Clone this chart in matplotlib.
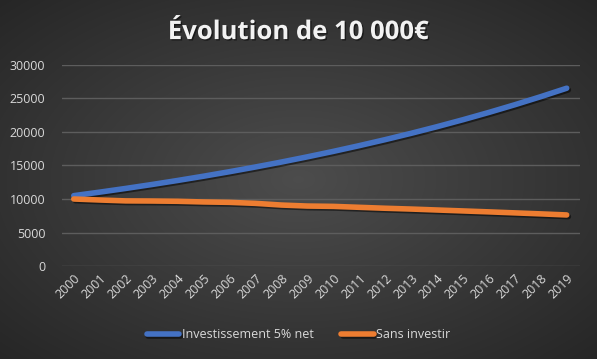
import matplotlib
matplotlib.use("Agg")
import matplotlib.pyplot as plt
import matplotlib.patheffects as pe
import numpy as np

years = [str(y) for y in range(2000, 2020)]
invest = [10500, 11025, 11576, 12155, 12763, 13401, 14071, 14775, 15513, 16289,
          17103, 17959, 18856, 19799, 20789, 21829, 22920, 24066, 25270, 26533]
sans = [10000, 9850, 9720, 9700, 9660, 9560, 9500, 9350, 9100, 8950,
        8900, 8760, 8620, 8500, 8360, 8220, 8080, 7930, 7780, 7620]
yticks = [0, 5000, 10000, 15000, 20000, 25000, 30000]

plt.rcParams['font.family'] = ['Open Sans', 'DejaVu Sans']

fig = plt.figure(figsize=(5.97, 3.59), dpi=100)

# background radial gradient
bg = fig.add_axes([0, 0, 1, 1], zorder=-10)
nx, ny = 600, 360
xx, yy = np.meshgrid(np.linspace(-1, 1, nx), np.linspace(-1, 1, ny))
r = np.sqrt(xx**2 + yy**2) / np.sqrt(2)
c = 0.30 - 0.15 * r
img = np.dstack([c, c, c])
bg.imshow(img, extent=[0, 1, 0, 1], aspect='auto', origin='lower')
bg.set_axis_off()

ax = fig.add_axes([0.104, 0.259, 0.867, 0.560])
ax.patch.set_alpha(0)
x = np.arange(len(years))
shadow = [pe.SimpleLineShadow(offset=(1.2, -1.2), shadow_color='black', alpha=0.5), pe.Normal()]
ax.plot(x, invest, color='#4472C4', lw=4, solid_capstyle='round', label='Investissement 5% net',
        path_effects=shadow, zorder=3)
ax.plot(x, sans, color='#ED7D31', lw=4, solid_capstyle='round', label='Sans investir',
        path_effects=shadow, zorder=3)

ax.set_xlim(-0.45, 19.5)
ax.set_ylim(0, 30000)
ax.set_yticks(yticks)
ax.set_yticklabels([str(v) for v in yticks])
ax.set_xticks(x)
ax.set_xticklabels(years, rotation=45, ha='right', rotation_mode='anchor')
ax.grid(axis='y', color='#5d5d5d', lw=1)
ax.set_axisbelow(True)
for s in ax.spines.values():
    s.set_visible(False)
ax.tick_params(length=0, colors='#d9d9d9', labelsize=9)
ax.tick_params(axis='y', pad=12)
ax.tick_params(axis='x', pad=4)

fig.text(0.5, 0.912, 'Évolution de 10 000€', ha='center', va='center', color='#f2f2f2',
         fontsize=18.5, fontweight='bold', family=['Open Sans', 'DejaVu Sans'],
         path_effects=[pe.withSimplePatchShadow(offset=(1, -1), shadow_rgbFace='black', alpha=0.5)])

leg = fig.legend(loc='center', bbox_to_anchor=(0.5, 0.067), ncol=2, frameon=False,
                 fontsize=9, handlelength=2.6, handletextpad=0.2, columnspacing=2.2)
for t in leg.get_texts():
    t.set_color('#d9d9d9')

fig.savefig('out.png', dpi=100)
